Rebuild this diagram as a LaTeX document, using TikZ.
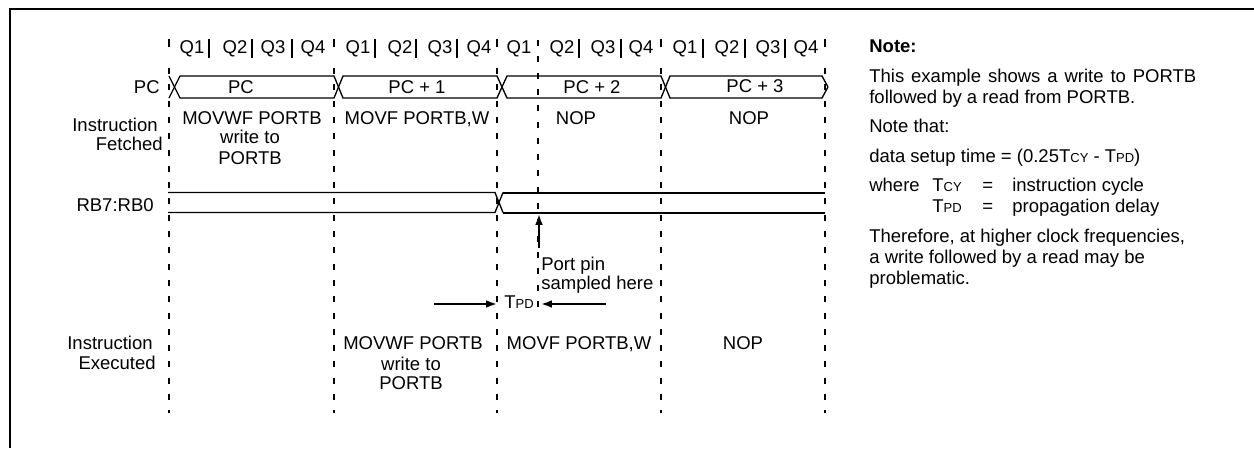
\documentclass[tikz,border=0pt]{standalone}
\usepackage{fontspec}
\setmainfont{Liberation Sans}
\usetikzlibrary{arrows.meta}
\newcommand{\subcaps}[1]{{\fontsize{7.8pt}{9pt}\selectfont #1}}
\newcommand{\Tpd}{T\subcaps{PD}}
\newcommand{\Tcy}{T\subcaps{CY}}
\tikzset{
  frameline/.style={line width=1.3pt,draw=black},
  cycleline/.style={line width=1.2pt,draw=black,dash pattern=on 3.6pt off 6.18pt},
  quarter/.style={line width=1.2pt,draw=black},
  bus/.style={line width=0.8pt,draw=black,line join=miter},
  busheavy/.style={line width=1.2pt,draw=black},
  timing/.style={line width=1.2pt,draw=black,-{Latex[length=6.5pt,width=4.6pt]}},
  txt/.style={inner sep=0pt,text height=7.95pt,text depth=0pt,font=\fontsize{11.1pt}{12.6pt}\selectfont},
  note/.style={txt,anchor=west}
}
\begin{document}
\begin{tikzpicture}[x=0.6pt,y=-0.6pt]
      \useasboundingbox (0,0) rectangle (1254,448);
      \draw[frameline] (1254,9) -- (10,9) -- (10,448);
      % cycle boundaries
      \draw[quarter] (169,39) -- (169,47);
      \draw[quarter] (334,39) -- (334,47);
      \draw[quarter] (497,39) -- (497,47);
      \draw[quarter] (661,39) -- (661,47);
      \draw[quarter] (825,39) -- (825,47);
      \draw[cycleline] (169,68) -- (169,413);
      \draw[cycleline] (334,68) -- (334,413);
      \draw[cycleline] (497,68) -- (497,413);
      \draw[cycleline] (538,40) -- (538,315);
      \draw[cycleline] (661,68) -- (661,413);
      \draw[cycleline] (825,68) -- (825,413);
      % quarter ticks
      \draw[quarter] (209,39) -- (209,58);
      \draw[quarter] (252,39) -- (252,58);
      \draw[quarter] (292,39) -- (292,58);
      \draw[quarter] (375,39) -- (375,58);
      \draw[quarter] (416,39) -- (416,58);
      \draw[quarter] (457,39) -- (457,58);
      \draw[quarter] (579,39) -- (579,58);
      \draw[quarter] (621,39) -- (621,58);
      \draw[quarter] (703,39) -- (703,58);
      \draw[quarter] (745,39) -- (745,58);
      \draw[quarter] (785,39) -- (785,58);
      \node[txt] (q11) at (192,47) {Q1};
      \node[txt] (q12) at (235,47) {Q2};
      \node[txt] (q13) at (273,47) {Q3};
      \node[txt] (q14) at (313,47) {Q4};
      \node[txt] (q21) at (358,47) {Q1};
      \node[txt] (q22) at (400,47) {Q2};
      \node[txt] (q23) at (440,47) {Q3};
      \node[txt] (q24) at (479,47) {Q4};
      \node[txt] (q31) at (519,47) {Q1};
      \node[txt] (q32) at (562,47) {Q2};
      \node[txt] (q33) at (603,47) {Q3};
      \node[txt] (q34) at (641,47) {Q4};
      \node[txt] (q41) at (685,47) {Q1};
      \node[txt] (q42) at (727,47) {Q2};
      \node[txt] (q43) at (768,47) {Q3};
      \node[txt] (q44) at (806,47) {Q4};
      % PC bus
      \draw[bus] (169,98) -- (180,76) -- (334,76) -- (343,98) -- (497,98) -- (507,76) -- (661,76) -- (670,98) -- (822,98) -- (828,87);
      \draw[bus] (169,76) -- (180,98) -- (334,98) -- (343,76) -- (497,76) -- (507,98) -- (661,98) -- (670,76) -- (822,76) -- (828,87);
      \node[txt,anchor=east] (pcname) at (160,87) {PC};
      \node[txt] (pc0) at (241,87) {PC};
      \node[txt] (pc1) at (417,87) {PC + 1};
      \node[txt] (pc2) at (592,87) {PC + 2};
      \node[txt] (pc3) at (755,86) {PC + 3};
      % fetched
      \node[txt,anchor=east] (fetch1) at (158,125) {Instruction};
      \node[txt,anchor=east] (fetch2) at (163,144) {Fetched};
      \node[txt] (movwf1) at (252,118) {MOVWF PORTB};
      \node[txt] (write1) at (250,137) {write to};
      \node[txt] (portb1) at (250,158) {PORTB};
      \node[txt] (movf1) at (417,118) {MOVF PORTB,W};
      \node[txt] (nop1) at (576,118) {NOP};
      \node[txt] (nop2) at (749,118) {NOP};
      % port pins
      \draw[bus] (168,192.5) -- (495,192.5) -- (503,212.5);
      \draw[bus] (168,212.5) -- (495,212.5) -- (503,192.5);
      \draw[busheavy] (503,192.5) -- (825,192.5);
      \draw[busheavy] (503,212.5) -- (825,212.5);
      \node[txt,anchor=east] (rbname) at (154,205) {RB7:RB0};
      \coordinate (sampletail) at (539,248);
      \coordinate (sampletip) at (539,214);
      \draw[timing] (sampletail) -- (sampletip);
      \node[note] (port) at (541,264) {Port pin};
      \node[note] (sampled) at (541,283) {sampled here};
      \node[note] (tpd) at (504,302) {\Tpd};
      \coordinate (lefttail) at (434,304);
      \coordinate (leftend) at (497,304);
      \coordinate (righttail) at (606,304);
      \coordinate (rightend) at (541,304);
      \draw[timing] (lefttail) -- (leftend);
      \draw[timing] (righttail) -- (rightend);
      % executed
      \node[txt,anchor=east] (exec1) at (153,343) {Instruction};
      \node[txt,anchor=east] (exec2) at (156,363) {Executed};
      \node[txt] (movwf2) at (413,343) {MOVWF PORTB};
      \node[txt] (write2) at (411,364) {write to};
      \node[txt] (portb2) at (411,383) {PORTB};
      \node[txt] (movf2) at (579,343) {MOVF PORTB,W};
      \node[txt] (nop3) at (743,343) {NOP};
      % note text
      \node[note] (n1) at (869,46) {\bfseries Note:};
      \node[note] (n2) at (869,76) {\makebox[196.2pt][s]{This example shows a write to PORTB}};
      \node[note] (n3) at (869,97) {followed by a read from PORTB.};
      \node[note] (n4) at (869,126) {Note that:};
      \node[note] (n5) at (869,156) {data setup time = (0.25\Tcy{} - \Tpd)};
      \node[note] (n6) at (869,185) {where};
      \node[note] (n7) at (932,185) {\Tcy};
      \node[note] (n8) at (982,185) {=};
      \node[note] (n9) at (1012,185) {instruction cycle};
      \node[note] (n10) at (932,206) {\Tpd};
      \node[note] (n11) at (982,206) {=};
      \node[note] (n12) at (1012,206) {propagation delay};
      \node[note] (n13) at (869,236) {Therefore, at higher clock frequencies,};
      \node[note] (n14) at (869,257) {a write followed by a read may be};
      \node[note] (n15) at (869,278) {problematic.};
\end{tikzpicture}
\end{document}
